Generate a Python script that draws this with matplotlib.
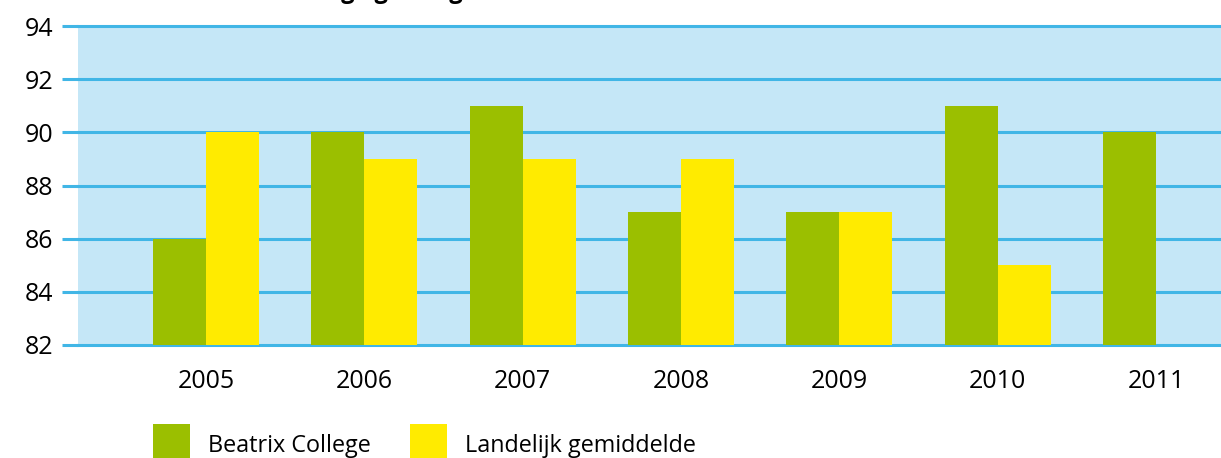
import matplotlib
matplotlib.use("Agg")
import matplotlib.pyplot as plt
import numpy as np

plt.rcParams['font.family'] = ['Open Sans', 'DejaVu Sans']

years = ["2005", "2006", "2007", "2008", "2009", "2010", "2011"]
beatrix = [86, 90, 91, 87, 87, 91, 90]
landelijk = [90, 89, 89, 89, 87, 85, np.nan]
yticks = [82, 84, 86, 88, 90, 92, 94]
series_names = ["Beatrix College", "Landelijk gemiddelde"]
title = "Percentage geslaagd"

GREEN = "#9bbf00"
YELLOW = "#ffeb00"
BG = "#c5e7f7"
GRID = "#41b6e6"

W, H = 1221, 458
fig = plt.figure(figsize=(W / 100, H / 100), dpi=100)
ax = fig.add_axes([78 / W, (H - 345) / H, (W - 78) / W, (345 - 26) / H])
ax.set_facecolor(BG)

x = np.arange(len(years))
bw = 0.335
ax.bar(x - bw / 2, beatrix, width=bw, color=GREEN, label=series_names[0], zorder=3)
ax.bar(x + bw / 2, landelijk, width=bw, color=YELLOW, label=series_names[1], zorder=3)

for v in yticks:
    ax.axhline(v, color=GRID, lw=2.2, zorder=2, clip_on=False)

ax.set_ylim(82, 94)
ax.set_xlim(-0.808, 6.41)
ax.set_yticks(yticks)
ax.set_xticks(x)
ax.set_xticklabels(years)
for s in ax.spines.values():
    s.set_visible(False)
ax.tick_params(axis='y', length=11.5, width=2.2, color=GRID, pad=6, labelsize=18)
ax.tick_params(axis='x', length=0, pad=17, labelsize=18)

fig.legend(loc='upper left', bbox_to_anchor=(153 / W, (H - 424) / H), ncol=2,
           frameon=False, fontsize=16.8, handlelength=1.59, handleheight=2.39,
           handletextpad=0.77, columnspacing=1.67, borderpad=0, borderaxespad=0)

fig.text(236 / W, 1.0 + 2 / H, title, fontsize=17, fontweight='bold',
         ha='left', va='baseline')

fig.savefig("out.png", dpi=100)
